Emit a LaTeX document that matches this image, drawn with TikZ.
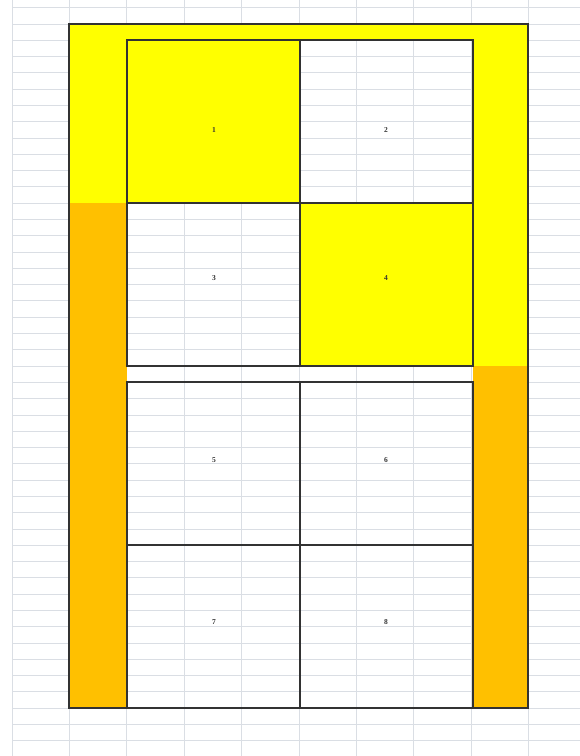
\documentclass[tikz,border=0pt]{standalone}
\usepackage{fontspec}
\setmainfont{Liberation Serif}
\definecolor{gridc}{RGB}{218,222,228}
\definecolor{xlyellow}{RGB}{255,255,0}
\definecolor{xlorange}{RGB}{255,192,0}
\definecolor{borderc}{RGB}{50,50,50}
\tikzset{
  gridline/.style={draw=gridc, line width=0.9pt},
  yfill/.style={fill=xlyellow},
  ofill/.style={fill=xlorange},
  edge/.style={draw=borderc, line width=1.5pt},
  cellnum/.style={font=\fontsize{7.5}{8}\selectfont\bfseries, text=black!80, inner sep=0pt},
}
\begin{document}
\begin{tikzpicture}[x=1pt, y=-1pt]
\useasboundingbox (0,0) rectangle (580,756);
\fill[white] (0,0) rectangle (580,756);
% spreadsheet grid
\foreach \k in {0,...,9} {
  \draw[gridline] ({12+57.4*\k},0) -- ({12+57.4*\k},756);
}
\foreach \k in {-1,...,44} {
  \draw[gridline] (12,{24+16.29*\k}) -- (580,{24+16.29*\k});
}
% fills
\fill[yfill] (69,24) rectangle (528,40);
\fill[yfill] (69,40) rectangle (127,203);
\fill[yfill] (473,40) rectangle (528,366);
\fill[ofill] (69,203) rectangle (127,708);
\fill[ofill] (473,366) rectangle (528,708);
% cells
\node[yfill, minimum width=173pt, minimum height=163pt, inner sep=0pt, anchor=north west] (c1) at (127,40) {};
\node[minimum width=173pt, minimum height=163pt, inner sep=0pt, anchor=north west] (c2) at (300,40) {};
\node[minimum width=173pt, minimum height=163pt, inner sep=0pt, anchor=north west] (c3) at (127,203) {};
\node[yfill, minimum width=173pt, minimum height=163pt, inner sep=0pt, anchor=north west] (c4) at (300,203) {};
\node[minimum width=173pt, minimum height=163pt, inner sep=0pt, anchor=north west] (c5) at (127,382) {};
\node[minimum width=173pt, minimum height=163pt, inner sep=0pt, anchor=north west] (c6) at (300,382) {};
\node[minimum width=173pt, minimum height=163pt, inner sep=0pt, anchor=north west] (c7) at (127,545) {};
\node[minimum width=173pt, minimum height=163pt, inner sep=0pt, anchor=north west] (c8) at (300,545) {};
% borders
\draw[edge] (69,24) rectangle (528,708);
\draw[edge] (127,40) rectangle (473,366);
\draw[edge] (300,40) -- (300,366);
\draw[edge] (127,203) -- (473,203);
\draw[edge] (127,382) rectangle (473,708);
\draw[edge] (300,382) -- (300,708);
\draw[edge] (127,545) -- (473,545);
% numbers
\node[cellnum] (n1) at (214,130) {1};
\node[cellnum] (n2) at (386,130) {2};
\node[cellnum] (n3) at (214,278) {3};
\node[cellnum] (n4) at (386,278) {4};
\node[cellnum] (n5) at (214,460) {5};
\node[cellnum] (n6) at (386,460) {6};
\node[cellnum] (n7) at (214,622) {7};
\node[cellnum] (n8) at (386,622) {8};
\end{tikzpicture}
\end{document}
